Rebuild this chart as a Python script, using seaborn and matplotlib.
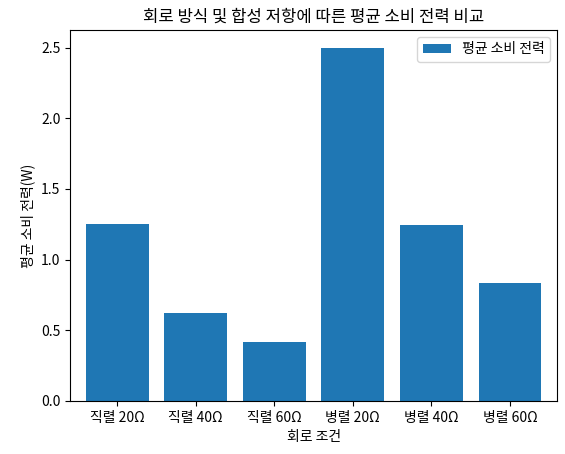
import matplotlib
matplotlib.use("Agg")
import matplotlib.pyplot as plt
import seaborn as sns

plt.rcParams['font.family'] = ['Noto Sans CJK KR', 'DejaVu Sans']
plt.rcParams['axes.unicode_minus'] = False

categories = ['직렬 20Ω', '직렬 40Ω', '직렬 60Ω', '병렬 20Ω', '병렬 40Ω', '병렬 60Ω']
values = [1.25, 0.625, 0.4167, 2.5, 1.245, 0.8333]

fig, ax = plt.subplots(figsize=(5.65, 4.54), dpi=100)
sns.barplot(x=categories, y=values, color='#1f77b4', saturation=1, width=0.8, ax=ax, label='평균 소비 전력')
ax.set_title('회로 방식 및 합성 저항에 따른 평균 소비 전력 비교')
ax.set_xlabel('회로 조건')
ax.set_ylabel('평균 소비 전력(W)')
ax.set_xlim(-0.6, 5.6)
ax.set_ylim(0, 2.625)
ax.legend(loc='upper right')
fig.subplots_adjust(left=0.124, right=0.986, bottom=0.117, top=0.934)
fig.savefig('out.png', dpi=100)
